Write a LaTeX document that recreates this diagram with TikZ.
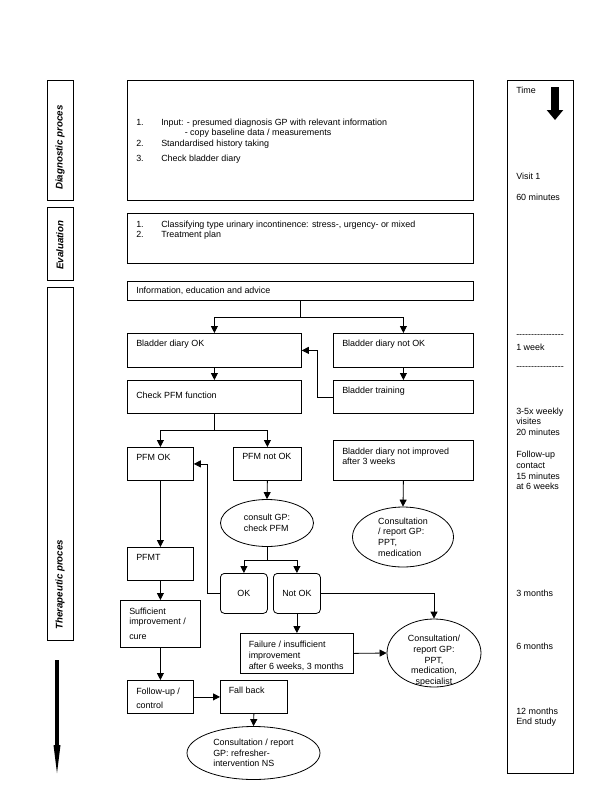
\documentclass[tikz,border=0pt]{standalone}
\usepackage{fontspec}
\setmainfont{Liberation Sans}
\usetikzlibrary{arrows.meta, shapes.geometric}
\newlength\px
\setlength\px{0.75pt}
\tikzset{
  box/.style={draw, line width=0.6pt, anchor=north west, inner sep=0pt},
  rbox/.style={box, rounded corners=4\px},
  oval/.style={draw, ellipse, line width=0.6pt, inner sep=0pt, align=left},
  txt/.style={anchor=north west, inner sep=0pt, align=left},
  phase/.style={anchor=west, rotate=90, inner sep=0pt, font=\fontsize{7.3pt}{9pt}\selectfont\bfseries\itshape},
  arr/.style={line width=0.6pt, -{Triangle[length=5.25pt,width=5.25pt]}},
}
\begin{document}
\begin{tikzpicture}[x=0.75pt, y=-0.75pt, font=\fontsize{6.7pt}{8pt}\selectfont]
\useasboundingbox (0,0) rectangle (600,800);

% Phases on the left
\node[box, minimum width=26\px, minimum height=120\px] (diagL) at (47,80) {};
\node[phase] (diagLt) at (60,190) {Diagnostic proces};
\node[box, minimum width=26\px, minimum height=73\px] (evalL) at (47,207) {};
\node[phase] (evalLt) at (60,270) {Evaluation};
\node[box, minimum width=26\px, minimum height=353\px] (therL) at (47,287) {};
\node[phase] (therLt) at (60,630) {Therapeutic proces};
\fill (55,660) rectangle (59,745);
\fill (53.5,745) -- (60.5,745) -- (57,773) -- cycle;

% Diagnostic and evaluation
\node[box, minimum width=346\px, minimum height=120\px] (diag) at (127,80) {};
\node[txt] (diagt) at (136,117.7) {\begin{tabular}{@{}p{25\px}@{}l@{}}
1. & Input: - presumed diagnosis GP with relevant information\\[-0.7pt]
   & \hspace{23.5\px}- copy baseline data / measurements\\[0.3pt]
2. & Standardised history taking\\[3.5pt]
3. & Check bladder diary
\end{tabular}};
\node[box, minimum width=346\px, minimum height=50\px] (eval) at (127,213) {};
\node[txt] (evalt) at (136,219.7) {\begin{tabular}{@{}p{25\px}@{}l@{}}
1. & Classifying type urinary incontinence: stress-, urgency- or mixed\\[-0.5pt]
2. & Treatment plan
\end{tabular}};

% Therapeutic boxes
\node[box, minimum width=346\px, minimum height=19\px] (info) at (127,281) {};
\node[txt] (infot) at (136,287) {Information, education and advice};
\node[box, minimum width=174\px, minimum height=34\px] (bdok) at (127,333) {};
\node[txt] (bdokt) at (136,340) {Bladder diary OK};
\node[box, minimum width=140\px, minimum height=34\px] (bdnok) at (333,333) {};
\node[txt] (bdnokt) at (342,340) {Bladder diary not OK};
\node[box, minimum width=140\px, minimum height=33\px] (btrain) at (333,380) {};
\node[txt] (btraint) at (342,387) {Bladder training};
\node[box, minimum width=174\px, minimum height=33\px] (chkpfm) at (127,380) {};
\node[txt] (chkpfmt) at (136,391.5) {Check PFM function};
\node[box, minimum width=66\px, minimum height=33\px] (pfmok) at (127,447) {};
\node[txt] (pfmokt) at (136,454) {PFM OK};
\node[box, minimum width=68\px, minimum height=33\px] (pfmnok) at (233,447) {};
\node[txt] (pfmnokt) at (242,453) {PFM not OK};
\node[box, minimum width=140\px, minimum height=40\px] (bdnimp) at (333,440) {};
\node[txt] (bdnimpt) at (342,447.5) {Bladder diary not improved\\after 3 weeks};
\node[oval, minimum width=93\px, minimum height=47\px] (gp) at (267,523) {consult GP:\\check PFM};
\node[oval, minimum width=101\px, minimum height=60\px] (gp2) at (403,537) {Consultation\\/ report GP:\\PPT,\\medication};
\node[rbox, minimum width=47\px, minimum height=40\px] (ok) at (220,573) {OK};
\node[rbox, minimum width=47\px, minimum height=40\px] (nok) at (273,573) {Not OK};
\node[box, minimum width=66\px, minimum height=33\px] (pfmt) at (127,547) {};
\node[txt] (pfmtt) at (136,554) {PFMT};
\node[box, minimum width=80\px, minimum height=47\px] (suff) at (120,600) {};
\node[txt] (sufft) at (129,607.5) {Sufficient\\improvement /\\[3pt]cure};
\node[box, minimum width=113\px, minimum height=40\px] (fail) at (240,633) {};
\node[txt] (failt) at (248.5,641) {Failure / insufficient\\improvement\\after 6 weeks, 3 months};
\node[oval, minimum width=94\px, minimum height=68\px] (gp3) at (434,653) {};
\node[align=center, inner sep=0pt] (gp3t) at (434,661) {Consultation/\\report GP:\\PPT,\\medication,\\specialist};
\node[box, minimum width=66\px, minimum height=33\px] (follow) at (127,680) {};
\node[txt] (followt) at (136,688) {Follow-up /\\[2.5pt]control};
\node[box, minimum width=67\px, minimum height=33\px] (fallback) at (220,680) {};
\node[txt] (fallbackt) at (228.5,687) {Fall back};
\node[oval, minimum width=133\px, minimum height=53\px] (gp4) at (253.5,753) {Consultation / report\\GP: refresher-\\intervention NS};

% Connectors
\draw[arr] (info.south) -- ++(0,16.5) -| (bdok.north);
\draw[arr] (info.south) -- ++(0,16.5) -| (bdnok.north);
\draw[arr] (bdnok.south) -- (btrain.north);
\draw[arr] (btrain.west) -- ++(-16,0) |- (bdok.east);
\draw[arr] (bdok.south) -- (chkpfm.north);
\draw[arr] (chkpfm.south) -- ++(0,17) -| (pfmok.north);
\draw[arr] (chkpfm.south) -- ++(0,17) -| (pfmnok.north);
\draw[arr] (pfmnok.south) -- (gp.north);
\draw[arr] (gp.south) -- ++(0,13) -| (ok.north);
\draw[arr] (gp.south) -- ++(0,13) -| (nok.north);
\draw[arr] (ok.west) -- ++(-13,0) |- (pfmok.east);
\draw[arr] (nok.east) -| (gp3.north);
\draw[arr] (nok.south) -- (fail.north);
\draw[arr] (fail.east) -- (gp3.west);
\draw[arr] (bdnimp.south) -- (gp2.north);
\draw[arr] (pfmok.south) -- (pfmt.north);
\draw[arr] (pfmt.south) -- (suff.north);
\draw[arr] (suff.south) -- (follow.north);
\draw[arr] (follow.east) -- (fallback.west);
\draw[arr] (fallback.south) -- (gp4.north);

% Time column
\node[box, minimum width=66\px, minimum height=693\px] (timeL) at (507,80) {};
\node[txt] (timet) at (516,87) {Time};
\fill (550.7,86.7) rectangle (559.3,110);
\fill (546.7,110) -- (563.3,110) -- (555,120) -- cycle;
\node[txt] (visit) at (516,173) {Visit 1};
\node[txt] (sixty) at (516,193.5) {60 minutes};
\node[anchor=west, inner sep=0pt] (dashA) at (516,336) {-{}-{}-{}-{}-{}-{}-{}-{}-{}-{}-{}-{}-{}-{}-{}-};
\node[txt] (week) at (516,343.5) {1 week};
\node[anchor=west, inner sep=0pt] (dashB) at (516,368) {-{}-{}-{}-{}-{}-{}-{}-{}-{}-{}-{}-{}-{}-{}-{}-};
\node[txt] (weekly) at (516,407.5) {3-5x weekly\\visites\\20 minutes};
\node[txt] (contact) at (516,451) {Follow-up\\contact\\15 minutes\\at 6 weeks};
\node[txt] (three) at (516,589.5) {3 months};
\node[txt] (six) at (516,643) {6 months};
\node[txt] (twelve) at (516,707.5) {12 months\\End study};
\end{tikzpicture}
\end{document}
